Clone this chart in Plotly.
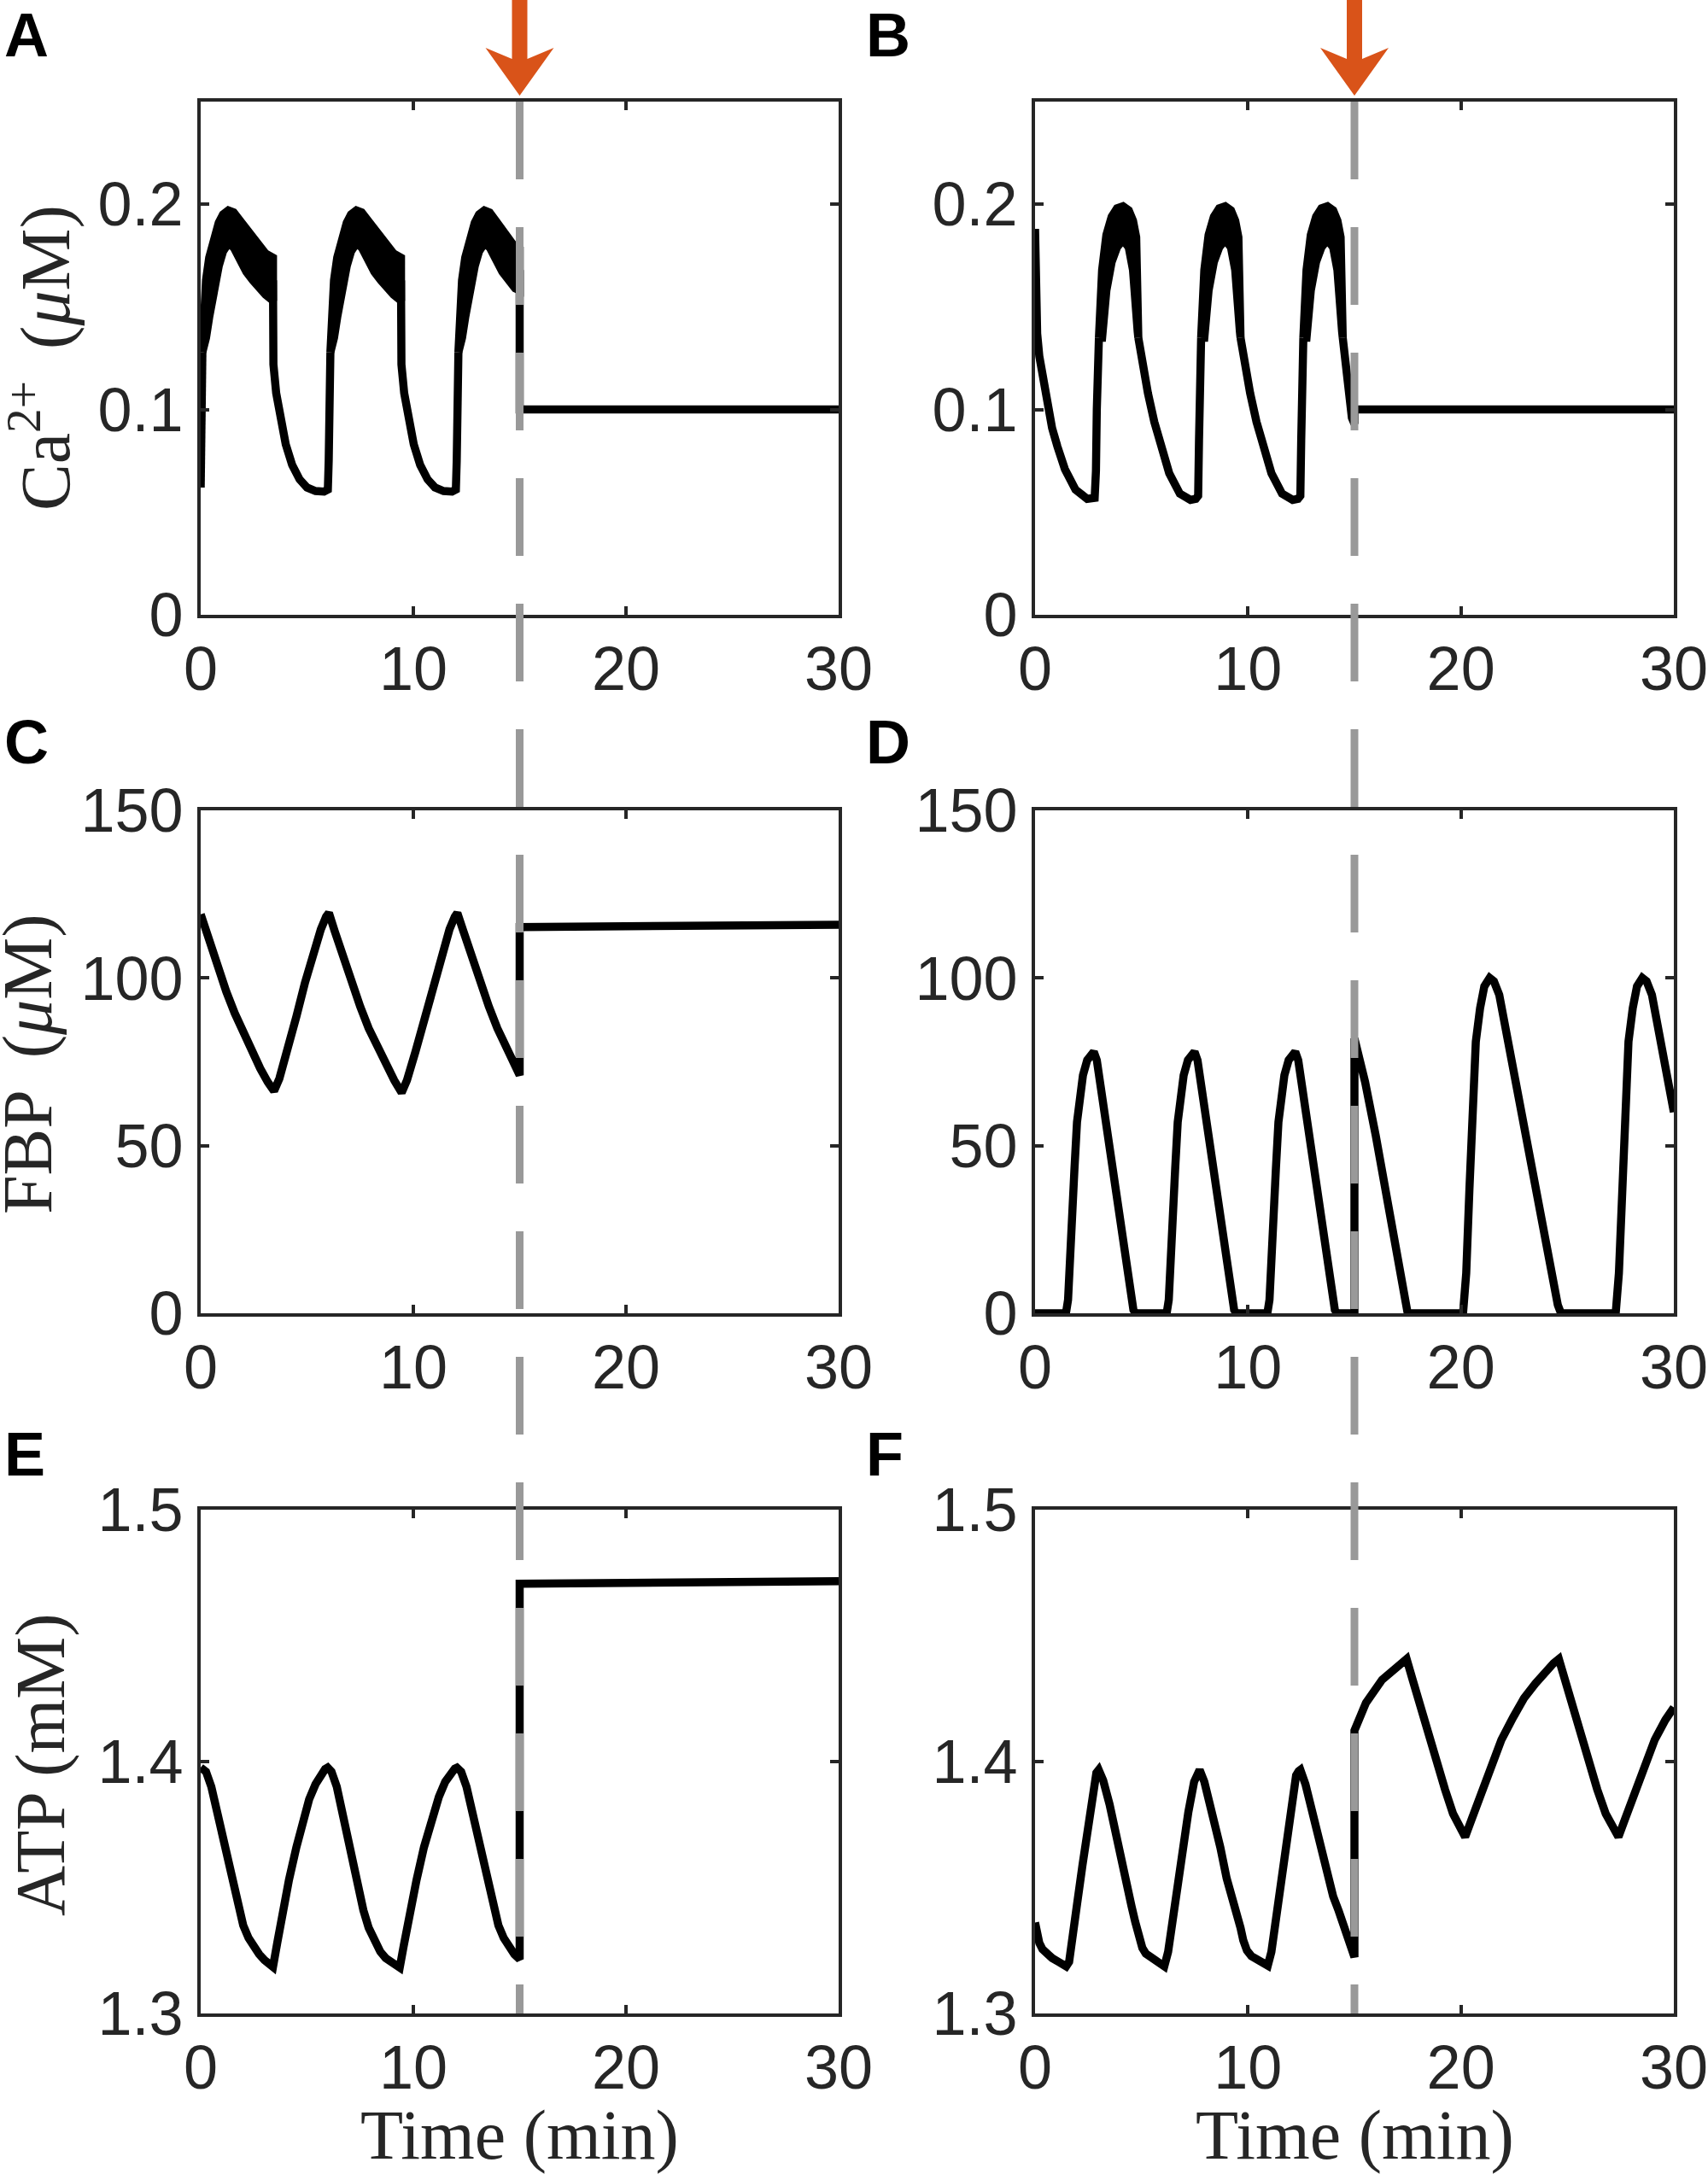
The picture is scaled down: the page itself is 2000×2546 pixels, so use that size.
import plotly.graph_objects as go

# time ticks (min), shared by all panels
x_ticks = [0, 10, 20, 30]

# ---- A: Ca2+ (uM), left column ----
ca_a_t = [0, 0.03, 0.06, 0.08, None,
          3.4, 3.42, 3.55, 3.75, 4.0, 4.3, 4.65, 5.0, 5.4, 5.8, 5.98, 6.02, 6.05, 6.08, 6.10, None,
          9.42, 9.44, 9.57, 9.77, 10.02, 10.32, 10.67, 11.02, 11.42, 11.82, 12.0, 12.04, 12.07, 12.1, 12.12, None,
          15.0, 15.0, 30.0]
ca_a = [0.062, 0.09, 0.115, 0.128, None,
        0.163, 0.122, 0.108, 0.095, 0.083, 0.073, 0.066, 0.062, 0.0603, 0.060, 0.061, 0.075, 0.1, 0.115, 0.128, None,
        0.163, 0.122, 0.108, 0.095, 0.083, 0.073, 0.066, 0.062, 0.0603, 0.060, 0.061, 0.075, 0.1, 0.115, 0.128, None,
        0.168, 0.100, 0.100]
# fast oscillations on the plateaus: upper / lower envelope
ca_a_band_t = [0.08, 0.14, 0.25, 0.4, 0.6, 0.85, 1.05, 1.3, 1.55, 1.85, 2.15, 2.45, 2.75, 3.05, 3.4, None,
               6.10, 6.16, 6.27, 6.42, 6.62, 6.87, 7.07, 7.32, 7.57, 7.87, 8.17, 8.47, 8.77, 9.07, 9.42, None,
               12.12, 12.18, 12.29, 12.44, 12.64, 12.89, 13.09, 13.34, 13.59, 13.89, 14.19, 14.49, 14.79, 15.0]
ca_a_band_hi = [0.128, 0.15, 0.163, 0.174, 0.183, 0.191, 0.195, 0.197, 0.196, 0.192, 0.187, 0.183, 0.179, 0.176, 0.174, None,
                0.128, 0.15, 0.163, 0.174, 0.183, 0.191, 0.195, 0.197, 0.196, 0.192, 0.187, 0.183, 0.179, 0.176, 0.174, None,
                0.128, 0.15, 0.163, 0.174, 0.183, 0.191, 0.195, 0.197, 0.196, 0.192, 0.187, 0.183, 0.179, 0.178]
ca_a_band_lo = [0.128, 0.128, 0.135, 0.145, 0.158, 0.170, 0.177, 0.181, 0.179, 0.173, 0.167, 0.163, 0.159, 0.156, 0.153, None,
                0.128, 0.128, 0.135, 0.145, 0.158, 0.170, 0.177, 0.181, 0.179, 0.173, 0.167, 0.163, 0.159, 0.156, 0.153, None,
                0.128, 0.128, 0.135, 0.145, 0.158, 0.170, 0.177, 0.181, 0.179, 0.173, 0.167, 0.163, 0.159, 0.158]

# ---- B: Ca2+ (uM), right column ----
ca_b_t = [0, 0.03, 0.1, 0.2, 0.32, 0.45, 0.6, 0.8, 1.05, 1.4, 1.9, 2.45, 2.8, 2.86, 2.9, 2.94, 3.0, None,
          4.85, 5.0, 5.3, 5.6, 5.9, 6.3, 6.8, 7.3, 7.55, 7.66, 7.7, 7.74, 7.8, None,
          9.65, 9.8, 10.1, 10.4, 10.7, 11.1, 11.6, 12.1, 12.35, 12.46, 12.5, 12.54, 12.6, None,
          14.45, 14.6, 14.75, 14.88, 15.0, 15.0, 30.0]
ca_b = [0.188, 0.165, 0.137, 0.126, 0.118, 0.11, 0.1, 0.091, 0.082, 0.071, 0.061, 0.0565, 0.057, 0.07, 0.1, 0.122, 0.135, None,
        0.135, 0.124, 0.108, 0.094, 0.082, 0.069, 0.059, 0.056, 0.0565, 0.058, 0.085, 0.115, 0.135, None,
        0.135, 0.124, 0.108, 0.094, 0.082, 0.069, 0.059, 0.056, 0.0565, 0.058, 0.085, 0.115, 0.135, None,
        0.135, 0.118, 0.104, 0.096, 0.093, 0.100, 0.100]
ca_b_band_t = [3.0, 3.15, 3.35, 3.6, 3.85, 4.13, 4.4, 4.6, 4.75, 4.82, 4.85, None,
               7.8, 7.95, 8.15, 8.4, 8.65, 8.93, 9.2, 9.4, 9.55, 9.62, 9.65, None,
               12.6, 12.75, 12.95, 13.2, 13.45, 13.73, 14.0, 14.2, 14.35, 14.42, 14.45]
ca_b_band_hi = [0.135, 0.168, 0.185, 0.194, 0.198, 0.199, 0.197, 0.192, 0.184, 0.165, 0.135, None,
                0.135, 0.168, 0.185, 0.194, 0.198, 0.199, 0.197, 0.192, 0.184, 0.165, 0.135, None,
                0.135, 0.168, 0.185, 0.194, 0.198, 0.199, 0.197, 0.192, 0.184, 0.165, 0.135]
ca_b_band_lo = [0.135, 0.135, 0.158, 0.172, 0.179, 0.1827, 0.179, 0.168, 0.150, 0.138, 0.135, None,
                0.135, 0.135, 0.158, 0.172, 0.179, 0.1827, 0.179, 0.168, 0.150, 0.138, 0.135, None,
                0.135, 0.135, 0.158, 0.172, 0.179, 0.1827, 0.179, 0.168, 0.150, 0.138, 0.135]

# ---- C: FBP (uM), left column ----
fbp_c_t = [0, 0.4, 0.8, 1.2, 1.6, 2.0, 2.4, 2.8, 3.15, 3.45,
           3.7, 4.1, 4.5, 4.9, 5.3, 5.65, 5.9, 6.03,
           6.3, 6.7, 7.1, 7.5, 7.9, 8.3, 8.7, 9.1, 9.45,
           9.7, 10.1, 10.5, 10.9, 11.3, 11.7, 11.95, 12.07,
           12.35, 12.75, 13.15, 13.55, 13.95, 14.35, 14.7, 15.0,
           15.0, 20.0, 25.0, 30.0]
fbp_c = [119, 111, 103.5, 96, 89.5, 83.5, 78, 73, 69, 66.3,
         70, 78.5, 88.5, 98.5, 107.5, 114.5, 118.3, 119.4,
         114, 106, 98.5, 91.5, 85, 79.5, 74.5, 69.5, 65.8,
         69.5, 78, 87.5, 97.5, 107, 114.5, 118.3, 119.4,
         114, 106, 98.5, 91.5, 85, 79.5, 75, 71,
         115.2, 115.5, 115.7, 115.9]

# ---- D: FBP (uM), right column ----
fbp_d_t = [0, 1.45, 1.55, 1.65, 1.75, 1.85, 1.97, 2.1, 2.25, 2.45, 2.62, 2.76, 2.9, 3.0, 3.4, 3.8, 4.2, 4.5, 4.62, 4.72,
           6.18, 6.28, 6.38, 6.48, 6.58, 6.7, 6.83, 6.98, 7.18, 7.35, 7.49, 7.63, 7.73, 8.13, 8.53, 8.93, 9.23, 9.35, 9.45,
           10.91, 11.01, 11.11, 11.21, 11.31, 11.43, 11.56, 11.71, 11.91, 12.08, 12.22, 12.36, 12.46, 12.86, 13.26, 13.66, 13.96, 14.08, 14.18,
           15.0, 15.0, 15.15, 15.5, 16.0, 16.5, 17.0, 17.35, 17.5,
           20.1, 20.25, 20.4, 20.55, 20.7, 20.9, 21.1, 21.35, 21.55, 21.8, 22.3, 22.8, 23.3, 23.8, 24.3, 24.55, 24.7,
           27.27, 27.42, 27.57, 27.72, 27.87, 28.07, 28.27, 28.52, 28.72, 28.97, 29.47, 30.0]
fbp_d = [0, 0, 4, 14, 28, 43, 57, 65, 71, 75.5, 77.5, 78, 75.5, 71, 53, 36, 18, 4.5, 1, 0,
         0, 4, 14, 28, 43, 57, 65, 71, 75.5, 77.5, 78, 75.5, 71, 53, 36, 18, 4.5, 1, 0,
         0, 4, 14, 28, 43, 57, 65, 71, 75.5, 77.5, 78, 75.5, 71, 53, 36, 18, 4.5, 1, 0,
         0, 82, 78.5, 69, 53, 35.5, 18, 5, 0,
         0, 12, 37, 66, 81, 91, 97.5, 100, 99, 95, 78, 61, 44, 27.5, 10.5, 2.5, 0,
         0, 12, 37, 66, 81, 91, 97.5, 100, 99, 95, 78, 60]

# ---- E: ATP (mM), left column ----
atp_e_t = [0, 0.25, 0.5, 0.75, 1.0, 1.25, 1.5, 1.75, 2.0, 2.25, 2.5, 2.75, 3.0, 3.2, 3.4,
           3.6, 3.85, 4.15, 4.5, 4.8, 5.1, 5.4, 5.65, 5.85, 5.97,
           6.15, 6.4, 6.65, 6.9, 7.15, 7.4, 7.65, 7.9, 8.15, 8.45, 8.7, 8.95, 9.15, 9.36,
           9.55, 9.85, 10.15, 10.5, 10.85, 11.2, 11.5, 11.75, 11.95, 12.05,
           12.25, 12.5, 12.75, 13.0, 13.25, 13.5, 13.75, 14.0, 14.25, 14.5, 14.75, 15.0,
           15.0, 20.0, 25.0, 30.0]
atp_e = [1.3976, 1.396, 1.390, 1.381, 1.371, 1.361, 1.351, 1.342, 1.335, 1.330, 1.326, 1.3235, 1.3212, 1.320, 1.3185,
         1.328, 1.340, 1.353, 1.366, 1.376, 1.385, 1.391, 1.395, 1.397, 1.3976,
         1.396, 1.390, 1.380, 1.369, 1.359, 1.349, 1.341, 1.334, 1.329, 1.3245, 1.322, 1.3205, 1.3195, 1.3182,
         1.327, 1.341, 1.353, 1.366, 1.377, 1.386, 1.392, 1.3955, 1.3972, 1.3976,
         1.396, 1.390, 1.381, 1.371, 1.361, 1.351, 1.342, 1.335, 1.330, 1.326, 1.3235, 1.3215,
         1.4706, 1.4709, 1.4713, 1.4716]

# ---- F: ATP (mM), right column ----
atp_f_t = [0, 0.1, 0.2, 0.35, 0.55, 0.8, 1.1, 1.46,
           1.6, 1.71, 1.95, 2.23, 2.5, 2.74, 2.88, 2.99,
           3.2, 3.5, 3.75, 4.02, 4.3, 4.53, 4.7, 4.85, 5.04, 5.2, 5.43, 5.7, 6.07,
           6.25, 6.45, 6.7, 6.96, 7.2, 7.47, 7.62, 7.73,
           7.95, 8.37, 8.7, 9.0, 9.3, 9.52, 9.65, 9.78, 9.95, 10.16, 10.5, 10.93,
           11.1, 11.31, 11.55, 11.82, 12.05, 12.26, 12.38, 12.46,
           12.7, 13.1, 13.45, 13.74, 14.0, 14.26, 14.45, 14.64, 14.85, 15.0,
           15.0, 15.54, 16.3, 16.9, 17.45,
           17.75, 18.1, 18.5, 18.86, 19.25, 19.63, 19.95, 20.2,
           20.5, 20.9, 21.4, 21.9, 22.45, 22.96, 23.5, 23.97, 24.35, 24.6,
           24.9, 25.27, 25.65, 26.0, 26.4, 26.8, 27.15, 27.4,
           27.7, 28.1, 28.6, 29.1, 29.6, 30.0]
atp_f = [1.3361, 1.331, 1.328, 1.3255, 1.3235, 1.322, 1.3205, 1.3187,
         1.3205, 1.326, 1.342, 1.359, 1.376, 1.391, 1.3955, 1.3967,
         1.3925, 1.383, 1.3725, 1.361, 1.351, 1.3426, 1.3365, 1.3315, 1.326, 1.3238, 1.3224, 1.3208, 1.3187,
         1.3245, 1.337, 1.3515, 1.3664, 1.380, 1.392, 1.3955, 1.3967,
         1.392, 1.379, 1.366, 1.3536, 1.3455, 1.339, 1.334, 1.329, 1.325, 1.3228, 1.3208, 1.319,
         1.3245, 1.338, 1.3545, 1.372, 1.385, 1.3945, 1.3962, 1.3967,
         1.391, 1.377, 1.364, 1.3536, 1.3465, 1.3407, 1.3355, 1.3297, 1.325, 1.3224,
         1.4123, 1.4233, 1.4325, 1.437, 1.4407,
         1.432, 1.4215, 1.4105, 1.3994, 1.389, 1.3793, 1.3735, 1.3701,
         1.377, 1.3866, 1.398, 1.4086, 1.4175, 1.4251, 1.431, 1.4361, 1.439, 1.4407,
         1.432, 1.4215, 1.4105, 1.3994, 1.389, 1.3793, 1.3735, 1.3701,
         1.377, 1.3866, 1.398, 1.4086, 1.4165, 1.4215]

t_stop = 15  # intervention time (min)

W, H = 2000, 2546
ink = "#262626"
lw = 9.5

# plot boxes in page pixels
left_x = [235, 982]
right_x = [1212, 1960]
rows_y = [[119, 720], [949, 1538], [1768, 2358]]


def px_x(p):
    return p / W


def px_y(p):
    return 1 - p / H


def xdom(px):
    return [px_x(px[0]), px_x(px[1])]


def ydom(py):
    return [px_y(py[1]), px_y(py[0])]


fig = go.Figure()


def add_line(t, y, n):
    fig.add_trace(go.Scatter(x=t, y=y, mode="lines", line=dict(color="black", width=lw),
                             xaxis="x" + n, yaxis="y" + n, showlegend=False, hoverinfo="skip"))


def add_band(t, hi, lo, n):
    xs, ys = [], []
    st, sh, sl = [], [], []
    for a, b, c in zip(t + [None], hi + [None], lo + [None]):
        if a is None:
            xs += st + st[::-1] + [None]
            ys += sh + sl[::-1] + [None]
            st, sh, sl = [], [], []
        else:
            st.append(a)
            sh.append(b)
            sl.append(c)
    fig.add_trace(go.Scatter(x=xs, y=ys, mode="lines", fill="toself", fillcolor="black",
                             line=dict(color="black", width=lw),
                             xaxis="x" + n, yaxis="y" + n, showlegend=False, hoverinfo="skip"))


add_band(ca_a_band_t, ca_a_band_hi, ca_a_band_lo, "")
add_line(ca_a_t, ca_a, "")
add_band(ca_b_band_t, ca_b_band_hi, ca_b_band_lo, "2")
add_line(ca_b_t, ca_b, "2")
add_line(fbp_c_t, fbp_c, "3")
add_line(fbp_d_t, fbp_d, "4")
add_line(atp_e_t, atp_e, "5")
add_line(atp_f_t, atp_f, "6")

tick_font = dict(family="Liberation Sans, Arial, sans-serif", size=72, color=ink)
axis_style = dict(ticks="inside", ticklen=10, tickwidth=4, tickcolor=ink, showline=True,
                  linewidth=4, linecolor=ink, mirror="ticks", showgrid=False, zeroline=False,
                  tickfont=tick_font, automargin=False, ticklabeloverflow="allow")

y_specs = [
    dict(range=[0, 0.25], tickvals=[0, 0.1, 0.2], ticktext=["0", "0.1", "0.2"]),
    dict(range=[0, 150], tickvals=[0, 50, 100, 150]),
    dict(range=[1.3, 1.5], tickvals=[1.3, 1.4, 1.5], ticktext=["1.3", "1.4", "1.5"]),
]

layout = {}
for i in range(6):
    n = "" if i == 0 else str(i + 1)
    row = i // 2
    px = left_x if i % 2 == 0 else right_x
    layout["xaxis" + n] = dict(axis_style, domain=xdom(px), anchor="y" + n, range=[0, 30],
                               tickvals=x_ticks, ticklabelstandoff=-2)
    layout["yaxis" + n] = dict(axis_style, domain=ydom(rows_y[row]), anchor="x" + n,
                               ticklabelstandoff=2, **y_specs[row])

# dashed grey line at the intervention, running through all three rows
shapes = []
for xr in ["x", "x2"]:
    shapes.append(dict(type="line", xref=xr, yref="paper", x0=t_stop, x1=t_stop,
                       y0=px_y(rows_y[0][0]), y1=px_y(rows_y[2][1]),
                       line=dict(color="#999999", width=9, dash="91px,56px"), layer="above"))
    # orange arrow pointing at the intervention
    shapes.append(dict(type="path", xref=xr, yref="paper", xsizemode="pixel", ysizemode="pixel",
                       xanchor=t_stop, yanchor=px_y(112),
                       path="M -9,112 L 9,112 L 9,43 L 40,56 L 0,0 L -40,56 L -9,43 Z",
                       fillcolor="#D95319", line=dict(width=0), layer="above"))

serif = dict(family="Liberation Serif, Times New Roman, serif", size=82, color=ink)
letter_font = dict(family="Liberation Sans, Arial, sans-serif", size=72, color="black")

annotations = []
for lab, xp, yp in [("A", 3, 41), ("B", 1012, 41), ("C", 3, 869),
                    ("D", 1012, 869), ("E", 3, 1703), ("F", 1012, 1703)]:
    annotations.append(dict(text="<b>" + lab + "</b>", x=px_x(xp), y=px_y(yp), xref="paper", yref="paper",
                            xanchor="left", yanchor="middle", showarrow=False, font=letter_font))

for txt, xp, yp in [("Ca<sup>2+</sup>&nbsp;\u2009(<i>μ</i>M)", 48, 419),
                    ("FBP&nbsp;\u2009(<i>μ</i>M)", 32, 1246),
                    ("ATP (mM)", 47, 2067)]:
    annotations.append(dict(text=txt, x=px_x(xp), y=px_y(yp), xref="paper", yref="paper", textangle=-90,
                            xanchor="center", yanchor="middle", showarrow=False, font=serif))

for px in [left_x, right_x]:
    annotations.append(dict(text="Time (min)", x=px_x((px[0] + px[1]) / 2), y=px_y(2500),
                            xref="paper", yref="paper", xanchor="center", yanchor="middle",
                            showarrow=False, font=serif))

fig.update_layout(width=W, height=H, margin=dict(l=0, r=0, t=0, b=0),
                  plot_bgcolor="white", paper_bgcolor="white",
                  shapes=shapes, annotations=annotations, **layout)

# let the figure sit flush in the page (no default body margin, no scrollbars, no toolbar)
fig.write_html("out.html", config={"displayModeBar": False},
               post_script="document.body.style.margin='0';document.documentElement.style.overflow='hidden';")
